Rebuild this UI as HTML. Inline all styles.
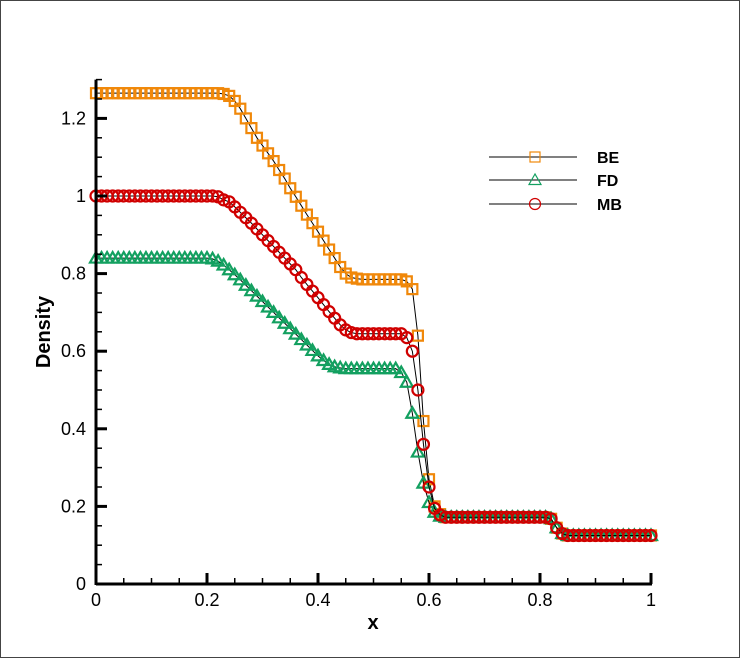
<!DOCTYPE html>
<html><head><meta charset="utf-8"><style>
html,body{margin:0;padding:0;background:#fff}
svg{display:block;font-family:"Liberation Sans",Arial,sans-serif}
</style></head><body>
<svg id="chart" width="740" height="658" viewBox="0 0 740 658">
<rect x="0.5" y="0.5" width="739" height="657" fill="#fff" stroke="#444"/>
<g id="plot"></g>
<g id="axes"></g>
<text x="50" y="332" transform="rotate(-90 50 332)" text-anchor="middle" font-size="20" font-weight="bold">Density</text>
<text x="373" y="629" text-anchor="middle" font-size="20" font-weight="bold">x</text>
<g id="legend"></g>
</svg>
<script>
const xValues = [];
for (let i = 0; i <= 100; i++) xValues.push(i / 100);
const seriesNames = ["BE", "FD", "MB"];
const beValues = [1.265,1.265,1.265,1.265,1.265,1.265,1.265,1.265,1.265,1.265,1.265,1.265,1.265,1.265,1.265,1.265,1.265,1.265,1.265,1.265,1.265,1.265,
1.265,1.263,1.258,1.245,1.225,1.2,1.175,1.15,1.13,1.11,1.09,1.067,1.045,1.02,0.998,0.975,0.952,0.93,0.908,0.885,0.862,0.84,0.817,0.8,0.79,0.787,
0.785,0.785,0.785,0.785,0.785,0.785,0.785,0.785,0.78,0.76,0.64,0.42,0.27,0.2,0.18,
0.172,0.172,0.172,0.172,0.172,0.172,0.172,0.172,0.172,0.172,0.172,0.172,0.172,0.172,0.172,0.172,0.172,0.172,0.172,
0.168,0.145,0.13,0.125,0.125,0.125,0.125,0.125,0.125,0.125,0.125,0.125,0.125,0.125,0.125,0.125,0.125,0.125,0.125];
const fdValues = [0.84,0.84,0.84,0.84,0.84,0.84,0.84,0.84,0.84,0.84,0.84,0.84,0.84,0.84,0.84,0.84,0.84,0.84,0.84,0.84,0.84,
0.838,0.832,0.822,0.81,0.797,0.784,0.77,0.756,0.742,0.728,0.714,0.7,0.686,0.672,0.658,0.644,0.63,0.616,0.602,0.588,0.576,0.566,0.56,0.557,
0.555,0.555,0.555,0.555,0.555,0.555,0.555,0.555,0.555,0.555,0.545,0.52,0.44,0.34,0.26,0.21,0.185,0.175,
0.172,0.172,0.172,0.172,0.172,0.172,0.172,0.172,0.172,0.172,0.172,0.172,0.172,0.172,0.172,0.172,0.172,0.172,0.172,
0.168,0.145,0.13,0.125,0.125,0.125,0.125,0.125,0.125,0.125,0.125,0.125,0.125,0.125,0.125,0.125,0.125,0.125,0.125];
const mbValues = [1,1,1,1,1,1,1,1,1,1,1,1,1,1,1,1,1,1,1,1,1,1,
0.998,0.99,0.985,0.972,0.958,0.944,0.93,0.915,0.9,0.885,0.87,0.855,0.84,0.825,0.81,0.79,0.772,0.755,0.738,0.72,0.702,0.685,0.668,0.655,0.648,
0.645,0.645,0.645,0.645,0.645,0.645,0.645,0.645,0.645,0.635,0.6,0.5,0.36,0.25,0.195,0.178,
0.172,0.172,0.172,0.172,0.172,0.172,0.172,0.172,0.172,0.172,0.172,0.172,0.172,0.172,0.172,0.172,0.172,0.172,0.172,
0.168,0.145,0.13,0.125,0.125,0.125,0.125,0.125,0.125,0.125,0.125,0.125,0.125,0.125,0.125,0.125,0.125,0.125,0.125];
const xTickLabels = ["0","0.2","0.4","0.6","0.8","1"];
const xTickValues = [0,0.2,0.4,0.6,0.8,1];
const yTickLabels = ["0","0.2","0.4","0.6","0.8","1","1.2"];
const yTickValues = [0,0.2,0.4,0.6,0.8,1,1.2];

const X0=96,X1=651,Y0=584,YU=388,YMAX=1.3;
const sx=v=>X0+(X1-X0)*v;
const sy=v=>Y0-YU*v;
const NS="http://www.w3.org/2000/svg";
function mk(tag,attrs,parent){const e=document.createElementNS(NS,tag);for(const k in attrs)e.setAttribute(k,attrs[k]);parent.appendChild(e);return e;}
const colors={BE:"#f0880a",FD:"#13a060",MB:"#d00000"};
function marker(type,x,y,parent,sw){
  let e;
  if(type==="BE"){e=mk("rect",{x:x-5,y:y-5,width:10,height:10,fill:"none",stroke:colors.BE,"stroke-width":sw},parent);}
  else if(type==="FD"){e=mk("polygon",{points:`${x},${y-6} ${x-6},${y+4.5} ${x+6},${y+4.5}`,fill:"none",stroke:colors.FD,"stroke-width":sw},parent);}
  else {e=mk("circle",{cx:x,cy:y,r:5.5,fill:"none",stroke:colors.MB,"stroke-width":sw},parent);}
  return e;
}
const plot=document.getElementById("plot");
const data={BE:beValues,FD:fdValues,MB:mbValues};
seriesNames.forEach(n=>{
  const g=mk("g",{},plot);
  
  
  const vals=data[n];
  const pts=vals.map((v,i)=>sx(xValues[i])+","+sy(v)).join(" ");
  const line=mk("polyline",{points:pts,fill:"none",stroke:"#000","stroke-width":1},g);
  
  
  vals.forEach((v,i)=>{
    const m=marker(n,sx(xValues[i]),sy(v),g,2.2);
    
    
  });
});
const axes=document.getElementById("axes");
mk("line",{x1:X0,y1:Y0,x2:X1+1,y2:Y0,stroke:"#000","stroke-width":3},axes);
mk("line",{x1:X0,y1:Y0+1,x2:X0,y2:sy(YMAX),stroke:"#000","stroke-width":3},axes);
for(let i=1;i<20;i++){if(i%4===0)continue;const x=sx(i*0.05);const t=mk("line",{x1:x,y1:Y0,x2:x,y2:Y0-6,stroke:"#000","stroke-width":1.5},axes);}
for(let i=1;i<=26;i++){if(i%4===0)continue;const y=sy(i*0.05);const t=mk("line",{x1:X0,y1:y,x2:X0+6,y2:y,stroke:"#000","stroke-width":1.5},axes);}
xTickValues.forEach((v,i)=>{
  const x=sx(v);
  const t=mk("line",{x1:x,y1:Y0,x2:x,y2:Y0-11,stroke:"#000","stroke-width":3},axes);
  
  const l=mk("text",{x:x,y:Y0+22,"text-anchor":"middle","font-size":18},axes);
  l.textContent=xTickLabels[i];
  
  
});
yTickValues.forEach((v,i)=>{
  const y=sy(v);
  const t=mk("line",{x1:X0,y1:y,x2:X0+11,y2:y,stroke:"#000","stroke-width":3},axes);
  
  const l=mk("text",{x:X0-10,y:y+6,"text-anchor":"end","font-size":18},axes);
  l.textContent=yTickLabels[i];
  
  
});
const legend=document.getElementById("legend");
const legY=[157,180,204];
seriesNames.forEach((n,i)=>{
  const g=mk("g",{},legend);
  
  
  mk("line",{x1:489,y1:legY[i],x2:577,y2:legY[i],stroke:"#000","stroke-width":1},g);
  marker(n,535,legY[i],g,1.2);
  const t=mk("text",{x:597,y:legY[i]+6,"font-size":16,"font-weight":"bold"},g);
  t.textContent=n;
});
</script>
</body></html>
